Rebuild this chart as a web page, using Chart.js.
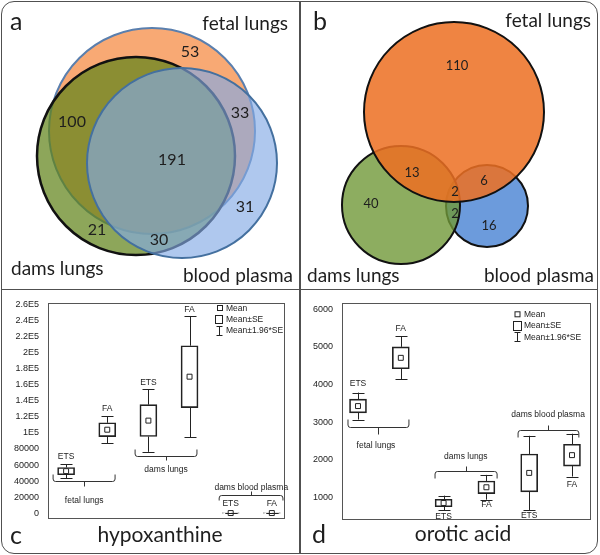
<!DOCTYPE html>
<html>
<head>
<meta charset="utf-8">
<title>Venn diagrams and box plots</title>
<script src="https://cdn.jsdelivr.net/npm/chart.js@4.4.1/dist/chart.umd.min.js"></script>
<style>
  body { margin: 0; background: #fff; }
  #wrap { position: relative; width: 600px; height: 555px; }
  #wrap canvas { position: absolute; }
  .frame { position: absolute; left: 1px; top: 1px; width: 597px; height: 553px; box-sizing: border-box; border: 1.5px solid #505050; border-radius: 13px; }
  .vline { position: absolute; left: 299px; top: 1px; width: 1.5px; height: 553px; background: #505050; }
  .hline { position: absolute; left: 1px; top: 288.5px; width: 597px; height: 1.5px; background: #505050; }
</style>
</head>
<body>
<div id="wrap">
  <canvas id="vennA" width="299" height="288" style="left:0;top:0"></canvas>
  <canvas id="vennB" width="300" height="288" style="left:300px;top:0"></canvas>
  <canvas id="hypo" width="299" height="266" style="left:0;top:289px"></canvas>
  <canvas id="orotic" width="300" height="266" style="left:300px;top:289px"></canvas>
  <div class="frame"></div>
  <div class="vline"></div>
  <div class="hline"></div>
</div>
<script>
const setNames = ['fetal lungs', 'dams lungs', 'blood plasma'];

// a - circle centres / radii in panel pixels, counts per region
const vennAX = [152, 136, 182];
const vennAY = [131, 156, 163];
const vennAR = [103, 99, 95];
const vennACounts = [53, 100, 33, 191, 31, 21, 30];
const vennACountX = [190, 72, 240, 172, 245, 97, 159];
const vennACountY = [52, 122, 113, 160, 207, 230, 240];

// b
const vennBX = [154, 101, 187];
const vennBY = [112, 205, 206];
const vennBR = [90, 59, 41];
const vennBCounts = [110, 13, 2, 6, 40, 2, 16];
const vennBCountX = [157, 112, 155, 184, 71, 155, 189];
const vennBCountY = [66, 173, 192, 181, 204, 214, 226];

// box plots
const tissues = ['fetal lungs', 'dams lungs', 'dams blood plasma'];
const treatments = ['ETS', 'FA', 'ETS', 'FA', 'ETS', 'FA'];
const legendLabels = ['Mean', 'Mean\u00b1SE', 'Mean\u00b11.96*SE'];

const hypoMean = [52500, 104000, 115300, 169900, 400, 400];
const hypoSE = [4500, 8600, 19800, 38500, 150, 150];
const hypoTicks = [0, 20000, 40000, 60000, 80000, 100000, 120000, 140000, 160000, 180000, 200000, 220000, 240000, 260000];
const hypoTickLabels = ['0', '20000', '40000', '60000', '80000', '1E5', '1.2E5', '1.4E5', '1.6E5', '1.8E5', '2E5', '2.2E5', '2.4E5', '2.6E5'];

const oroticMean = [3425, 4710, 843, 1262, 1645, 2118];
const oroticSE = [183, 292, 100, 168, 504, 291];
const oroticTicks = [1000, 2000, 3000, 4000, 5000, 6000];
const oroticTickLabels = ['1000', '2000', '3000', '4000', '5000', '6000'];

const LATO = 'Lato, "Open Sans", sans-serif';
const ARIAL = '"Liberation Sans", Arial, sans-serif';

function vennChart(id, xs, ys, rs, styles, counts, cx, cy, t) {
  const el = document.getElementById(id);
  const datasets = xs.map((x, i) => ({
    label: setNames[i],
    data: [{ x: x, y: ys[i], r: rs[i] }],
    backgroundColor: styles[i].fill,
    borderColor: styles[i].line,
    borderWidth: styles[i].lw,
    order: styles[i].order,
    clip: false
  }));
  new Chart(el, {
    type: 'bubble',
    data: { datasets },
    options: {
      responsive: false, animation: false, events: [],
      layout: { padding: 0, autoPadding: false },
      plugins: { legend: { display: false }, tooltip: { enabled: false } },
      scales: {
        x: { type: 'linear', min: 0, max: el.width, display: false },
        y: { type: 'linear', min: 0, max: el.height, reverse: true, display: false }
      }
    },
    plugins: [{
      id: 'vennText',
      afterDatasetsDraw(chart) {
        const { ctx, scales: { x, y } } = chart;
        ctx.save();
        ctx.fillStyle = '#1e1e1e';
        ctx.textAlign = 'center';
        ctx.textBaseline = 'middle';
        ctx.font = t.countSize + 'px ' + LATO;
        counts.forEach((c, i) => ctx.fillText(String(c), x.getPixelForValue(cx[i]), y.getPixelForValue(cy[i])));
        ctx.textBaseline = 'alphabetic';
        ctx.font = t.nameSize + 'px ' + LATO;
        ctx.textAlign = 'right';
        ctx.fillText(setNames[0], t.fetal[0], t.fetal[1]);
        ctx.textAlign = 'left';
        ctx.fillText(setNames[1], t.dams[0], t.dams[1]);
        ctx.textAlign = 'right';
        ctx.fillText(setNames[2], t.blood[0], t.blood[1]);
        ctx.textAlign = 'left';
        ctx.font = '25px ' + LATO;
        ctx.fillText(t.letter, t.letterPos[0], t.letterPos[1]);
        ctx.restore();
      }
    }]
  });
}

vennChart('vennA', vennAX, vennAY, vennAR, [
  { fill: 'rgba(245,140,70,0.75)', line: '#5a7fae', lw: 2, order: 3 },
  { fill: 'rgba(97,131,26,0.72)', line: '#111', lw: 2.5, order: 2 },
  { fill: 'rgba(132,171,229,0.65)', line: '#44709f', lw: 2, order: 1 }
], vennACounts, vennACountX, vennACountY, {
  countSize: 16, nameSize: 19, letter: 'a', letterPos: [10, 30],
  fetal: [288, 30], dams: [11, 275], blood: [293, 282]
});

vennChart('vennB', vennBX, vennBY, vennBR, [
  { fill: 'rgba(236,112,35,0.86)', line: '#111', lw: 2, order: 1 },
  { fill: 'rgba(112,153,56,0.8)', line: '#111', lw: 2, order: 2 },
  { fill: 'rgba(108,155,220,1)', line: '#111', lw: 2, order: 3 }
], vennBCounts, vennBCountX, vennBCountY, {
  countSize: 13, nameSize: 19, letter: 'b', letterPos: [13, 30],
  fetal: [291, 27], dams: [7, 282], blood: [294, 282]
});

function drawLegend(ctx, L) {
  ctx.save();
  ctx.strokeStyle = '#222';
  ctx.fillStyle = '#fff';
  ctx.lineWidth = 1;
  ctx.fillRect(L.sq[0] - 2.5, L.sq[1] - 2.5, 5, 5);
  ctx.strokeRect(L.sq[0] - 2.5, L.sq[1] - 2.5, 5, 5);
  ctx.strokeRect(L.box[0] + 0.5, L.box[1] + 0.5, L.box[2], L.box[3]);
  const wx = L.wh[0] + 0.5;
  ctx.beginPath();
  ctx.moveTo(wx, L.wh[1]); ctx.lineTo(wx, L.wh[2]);
  ctx.moveTo(wx - 3, L.wh[1] + 0.5); ctx.lineTo(wx + 3, L.wh[1] + 0.5);
  ctx.moveTo(wx - 3, L.wh[2] - 0.5); ctx.lineTo(wx + 3, L.wh[2] - 0.5);
  ctx.stroke();
  ctx.fillStyle = '#222';
  ctx.font = '8.5px ' + ARIAL;
  ctx.textAlign = 'left';
  ctx.textBaseline = 'middle';
  legendLabels.forEach((s, i) => ctx.fillText(s, L.tx, L.ty[i]));
  ctx.restore();
}

function boxChart(id, mean, se, ticks, tickLabels, c) {
  const el = document.getElementById(id);
  new Chart(el, {
    type: 'bar',
    data: {
      datasets: [
        {
          type: 'scatter', label: 'Mean',
          data: mean.map((m, i) => ({ x: i + 1, y: m })),
          pointStyle: 'rect', radius: 3.5, backgroundColor: '#fff', borderColor: '#222', borderWidth: 1,
          order: 0, clip: false
        },
        {
          type: 'bar', label: 'Mean\u00b1SE',
          data: mean.map((m, i) => ({ x: i + 1, y: [m - se[i], m + se[i]] })),
          backgroundColor: 'rgba(255,255,255,0)', borderColor: '#222', borderWidth: 1, borderSkipped: false,
          barThickness: 17, order: 1
        }
      ]
    },
    options: {
      responsive: false, animation: false, events: [],
      layout: { padding: { left: 0, right: c.pad[1], top: c.pad[0], bottom: c.pad[2] }, autoPadding: false },
      plugins: { legend: { display: false }, tooltip: { enabled: false } },
      scales: {
        x: { type: 'linear', min: c.xRange[0], max: c.xRange[1], display: false, offset: false },
        y: {
          type: 'linear', min: c.yRange[0], max: c.yRange[1],
          grid: { display: false, drawTicks: false },
          border: { display: false },
          afterFit: s => { s.width = c.axisW; },
          afterBuildTicks: s => { s.ticks = ticks.map(v => ({ value: v })); },
          ticks: {
            padding: 9, color: '#222', autoSkip: false,
            font: { family: ARIAL, size: 9 },
            callback: (v, i) => tickLabels[i]
          }
        }
      }
    },
    plugins: [{
      id: 'boxExtras',
      afterDatasetsDraw(chart) {
        const { ctx, chartArea: a, scales: { x, y } } = chart;
        ctx.save();
        // plot frame
        ctx.strokeStyle = '#555';
        ctx.lineWidth = 1;
        ctx.strokeRect(Math.round(a.left) + 0.5, Math.round(a.top) + 0.5, Math.round(a.width) - 1, Math.round(a.height) - 1);
        // whiskers
        ctx.strokeStyle = '#222';
        ctx.beginPath();
        mean.forEach((m, i) => {
          const px = Math.round(x.getPixelForValue(i + 1)) + 0.5;
          const hi = y.getPixelForValue(m + 1.96 * se[i]);
          const lo = y.getPixelForValue(m - 1.96 * se[i]);
          const bh = y.getPixelForValue(m + se[i]);
          const bl = y.getPixelForValue(m - se[i]);
          ctx.moveTo(px, hi); ctx.lineTo(px, bh);
          ctx.moveTo(px, bl); ctx.lineTo(px, lo);
          ctx.moveTo(px - 6, Math.round(hi) + 0.5); ctx.lineTo(px + 6, Math.round(hi) + 0.5);
          ctx.moveTo(px - 6, Math.round(lo) + 0.5); ctx.lineTo(px + 6, Math.round(lo) + 0.5);
        });
        ctx.stroke();
        // treatment labels
        ctx.fillStyle = '#222';
        ctx.font = '8.5px ' + ARIAL;
        ctx.textAlign = 'center';
        ctx.textBaseline = 'middle';
        treatments.forEach((t, i) => {
          const px = x.getPixelForValue(i + 1);
          const d = c.labelDy[i];
          const yy = d < 0 ? y.getPixelForValue(mean[i] + 1.96 * se[i]) + d : y.getPixelForValue(mean[i] - 1.96 * se[i]) + d;
          ctx.fillText(t, px, yy);
        });
        // tissue brackets
        ctx.strokeStyle = '#333';
        c.brackets.forEach((b, i) => {
          const x1 = x.getPixelForValue(b.x1), x2 = x.getPixelForValue(b.x2), xm = (x1 + x2) / 2;
          const yl = Math.round(y.getPixelForValue(b.y)) + 0.5;
          const s = b.hook < 0 ? -1 : 1;
          ctx.beginPath();
          ctx.moveTo(x1, yl + b.hook);
          ctx.lineTo(x1, yl + s * 2.5);
          ctx.quadraticCurveTo(x1, yl, x1 + 2.5, yl);
          ctx.lineTo(x2 - 2.5, yl);
          ctx.quadraticCurveTo(x2, yl, x2, yl + s * 2.5);
          ctx.lineTo(x2, yl + b.hook);
          ctx.moveTo(Math.round(xm) + 0.5, yl);
          ctx.lineTo(Math.round(xm) + 0.5, yl + b.tick);
          ctx.stroke();
          ctx.fillText(tissues[i], x.getPixelForValue(b.lx), y.getPixelForValue(b.ly));
        });
        drawLegend(ctx, c.legend);
        // panel letter and title
        ctx.fillStyle = '#1e1e1e';
        ctx.textBaseline = 'alphabetic';
        ctx.textAlign = 'left';
        ctx.font = '25px ' + LATO;
        ctx.fillText(c.letter, c.letterPos[0], c.letterPos[1]);
        ctx.textAlign = 'center';
        ctx.font = '21px ' + LATO;
        ctx.fillText(c.title, c.titlePos[0], c.titlePos[1]);
        ctx.restore();
      }
    }]
  });
}

boxChart('hypo', hypoMean, hypoSE, hypoTicks, hypoTickLabels, {
  pad: [8, 14, 36], axisW: 48, xRange: [0.56, 6.32], yRange: [-7000, 261000],
  labelDy: [-7, -7, -7, -6, -9, -9],
  brackets: [
    { x1: 0.684, x2: 2.19, y: 39850, hook: -7, tick: 5, lx: 1.44, ly: 15700 },
    { x1: 2.677, x2: 4.18, y: 71250, hook: -7, tick: 4, lx: 3.43, ly: 54350 },
    { x1: 4.72, x2: 6.27, y: 22400, hook: 5, tick: -4, lx: 5.50, ly: 31400 }
  ],
  legend: { sq: [220, 19], box: [215, 26, 7, 8], wh: [219, 37, 47], tx: 226, ty: [19.3, 30.3, 42] },
  letter: 'c', letterPos: [10, 255], title: 'hypoxanthine', titlePos: [160, 253]
});

boxChart('orotic', oroticMean, oroticSE, oroticTicks, oroticTickLabels, {
  pad: [10, 9, 35], axisW: 42, xRange: [0.626, 6.444], yRange: [390, 6160],
  labelDy: [-9, -8, 6, 5, 6, 8],
  brackets: [
    { x1: 0.766, x2: 2.19, y: 2870, hook: -8, tick: 7, lx: 1.42, ly: 2373 },
    { x1: 2.80, x2: 4.25, y: 1695, hook: 7, tick: -5, lx: 3.52, ly: 2086 },
    { x1: 4.74, x2: 6.16, y: 2791, hook: 7, tick: -5, lx: 5.44, ly: 3183 }
  ],
  legend: { sq: [217.5, 25.3], box: [213, 32, 8, 9], wh: [217, 43, 53], tx: 224, ty: [25.3, 36.3, 48.7] },
  letter: 'd', letterPos: [12, 254], title: 'orotic acid', titlePos: [163, 252]
});
</script>
</body>
</html>
